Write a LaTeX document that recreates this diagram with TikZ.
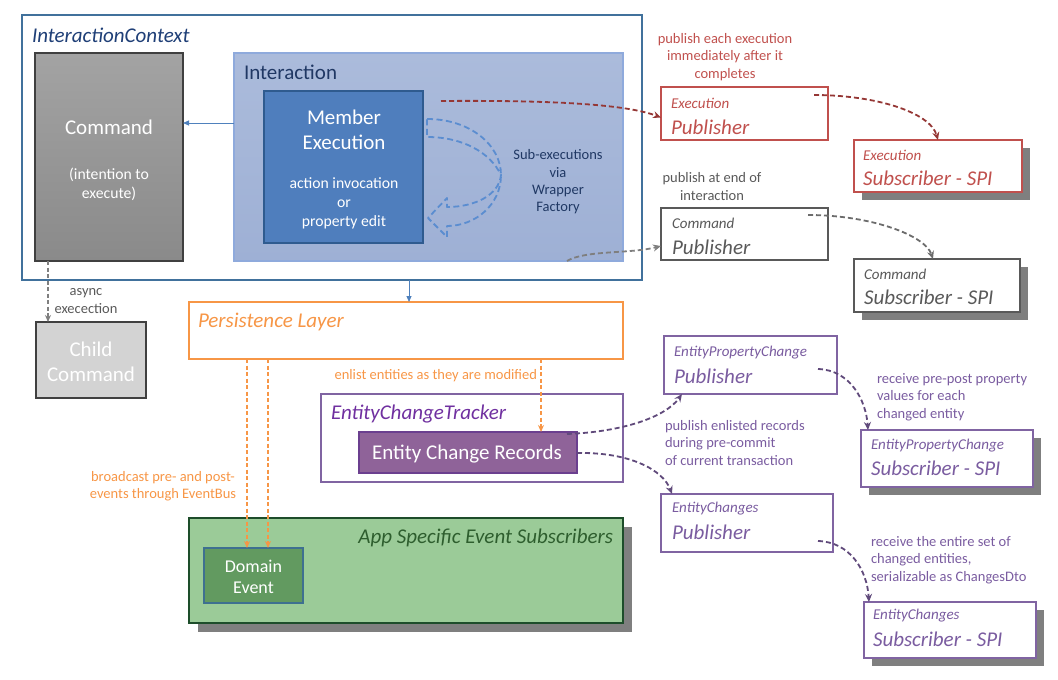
\documentclass[tikz,border=0pt]{standalone}
\usepackage{fontspec}
\setmainfont{Carlito}
\usetikzlibrary{arrows.meta,shadows,calc}
\definecolor{ctxblue}{HTML}{41719C}
\definecolor{ctxtitle}{HTML}{1F3F77}
\definecolor{cmdtop}{HTML}{A3A3A3}
\definecolor{cmdbot}{HTML}{8A8A8A}
\definecolor{cmdborder}{HTML}{404040}
\definecolor{childfill}{HTML}{D3D3D3}
\definecolor{inttop}{HTML}{ABBBDB}
\definecolor{intbot}{HTML}{9EB0D5}
\definecolor{intborder}{HTML}{8FAADC}
\definecolor{inttext}{HTML}{203864}
\definecolor{mefill}{HTML}{4F7EBD}
\definecolor{meborder}{HTML}{2F5B8F}
\definecolor{subblue}{HTML}{5B8DD0}
\definecolor{arrblue}{HTML}{4F81BD}
\definecolor{redc}{HTML}{C0504D}
\definecolor{redarr}{HTML}{953735}
\definecolor{greyc}{HTML}{595959}
\definecolor{greyarr}{HTML}{7F7F7F}
\definecolor{orangec}{HTML}{F79646}
\definecolor{purplebox}{HTML}{8064A2}
\definecolor{purpletitle}{HTML}{7030A0}
\definecolor{purpletext}{HTML}{7A5CA0}
\definecolor{purplearr}{HTML}{604A7B}
\definecolor{ecrfill}{HTML}{8F6399}
\definecolor{ecrborder}{HTML}{6B3F8F}
\definecolor{greenfill}{HTML}{9BCB98}
\definecolor{greenborder}{HTML}{1D4D2A}
\definecolor{greentitle}{HTML}{2E5E2E}
\definecolor{domfill}{HTML}{629A60}
\definecolor{domborder}{HTML}{3E7090}
\definecolor{shadowgrey}{HTML}{7F7F7F}
\begin{document}
\begin{tikzpicture}[x=1pt,y=-1pt,
  box/.style={inner sep=0pt, outer sep=0pt, anchor=north west, line width=1.2pt},
  shadowbox/.style={general shadow={fill=shadowgrey, shadow xshift=7.5pt, shadow yshift=-8pt}},
  txt/.style={inner sep=0pt, outer sep=0pt},
  big/.style={font=\fontsize{21}{25}\selectfont},
  itbig/.style={font=\fontsize{21}{25}\selectfont\itshape},
  mid/.style={font=\fontsize{15.7}{19}\selectfont},
  itsmall/.style={font=\fontsize{15}{18}\selectfont\itshape},
  small/.style={font=\fontsize{14.5}{17.3}\selectfont},
  dasharr/.style={line width=1.8pt, dash pattern=on 5pt off 3pt, -{Stealth[length=8pt,width=7pt]}},
  orangearr/.style={line width=1.4pt, orangec, dash pattern=on 4pt off 2.5pt, -{Stealth[length=7pt,width=6pt]}},
  bluearr/.style={line width=0.8pt, arrblue, -{Triangle[length=6pt,width=5pt]}}
]
\useasboundingbox (0,0) rectangle (1058,680);

% Interaction context
\node[box, draw=ctxblue, fill=white, minimum width=620pt, minimum height=265pt] (ctx) at (22,15) {};
\node[txt, itbig, text=ctxtitle, anchor=west] (ctxt) at (32,35) {InteractionContext};

% Command
\node[box, draw=cmdborder, top color=cmdtop, bottom color=cmdbot, minimum width=148pt, minimum height=208pt] (cmd) at (35,53) {};
\node[txt, big, white] (cmdt) at (109,127) {Command};
\node[txt, mid, white, align=center] (cmdt2) at (109,184) {(intention to\\execute)};

% Interaction
\node[box, draw=intborder, top color=inttop, bottom color=intbot, minimum width=389pt, minimum height=208pt] (int) at (234,53) {};
\node[txt, big, text=inttext, anchor=west] (intt) at (244,72) {Interaction};

% Member execution
\node[box, draw=meborder, fill=mefill, minimum width=159pt, minimum height=152pt] (me) at (264,91) {};
\node[txt, big, white, align=center] (met) at (344,130) {Member\\Execution};
\node[txt, mid, white, align=center, font=\fontsize{15.7}{19}\selectfont] (met2) at (344,203) {action invocation\\or\\property edit};

% curved block arrow (sub-executions)
\draw[subblue, line width=1.8pt, dash pattern=on 6pt off 3.5pt, line join=round]
  (427,119) .. controls (470,119) and (501,145) .. (501,175)
  .. controls (501,205) and (475,226) .. (447,226)
  -- (447,237) -- (428,218) -- (447,198) -- (447,207)
  .. controls (475,207) and (499,195) .. (501,175)
  .. controls (490,152) and (462,137) .. (427,137) -- cycle;
\node[txt, small, text=inttext, align=center] (subt) at (558,182) {Sub-executions\\via\\Wrapper\\Factory};

% blue arrow interaction -> command
\draw[bluearr] (int.west |- 0,123) -- (cmd.east |- 0,123);

% Execution publisher / subscriber
\node[box, draw=redc, fill=white, minimum width=167pt, minimum height=53pt] (epub) at (661,87) {};
\node[txt, itsmall, text=redc, anchor=west] (epubt1) at (671,103) {Execution};
\node[txt, itbig, text=redc, anchor=west] (epubt2) at (671,127) {Publisher};
\node[box, draw=redc, fill=white, shadowbox, minimum width=168pt, minimum height=52pt] (esub) at (854,140) {};
\node[txt, itsmall, text=redc, anchor=west] (esubt1) at (863,155) {Execution};
\node[txt, itbig, text=redc, anchor=west] (esubt2) at (863,178) {Subscriber - SPI};
\node[txt, small, text=redc, align=center] (elabel) at (725,57) {publish each execution\\immediately after it\\completes};

% Command publisher / subscriber
\node[box, draw=greyc, fill=white, minimum width=167pt, minimum height=52pt] (cpub) at (661,208) {};
\node[txt, itsmall, text=greyc, anchor=west] (cpubt1) at (672,223) {Command};
\node[txt, itbig, text=greyc, anchor=west] (cpubt2) at (672,247) {Publisher};
\node[box, draw=greyc, fill=white, shadowbox, minimum width=166pt, minimum height=53pt] (csub) at (854,259) {};
\node[txt, itsmall, text=greyc, anchor=west] (csubt1) at (864,274) {Command};
\node[txt, itbig, text=greyc, anchor=west] (csubt2) at (864,297) {Subscriber - SPI};
\node[txt, small, text=greyc, align=center] (clabel) at (712,186.5) {publish at end of\\interaction};

% Child command
\node[box, draw=cmdborder, fill=childfill, minimum width=110pt, minimum height=76pt] (child) at (36,322) {};
\node[txt, big, white, align=center] (childt) at (91,362) {Child\\Command};
\node[txt, small, text=greyc, align=center] (alabel) at (86,301) {async\\execection};

% Persistence layer
\node[box, draw=orangec, fill=white, minimum width=434pt, minimum height=57pt] (pl) at (189,302) {};
\node[txt, itbig, text=orangec, anchor=west] (plt) at (198,322) {Persistence Layer};

% Entity change tracker
\node[box, draw=purplebox, fill=white, minimum width=302pt, minimum height=88pt] (ect) at (321,394) {};
\node[txt, itbig, text=purpletitle, anchor=west] (ectt) at (331,414) {EntityChangeTracker};
\node[box, draw=ecrborder, fill=ecrfill, minimum width=218pt, minimum height=41pt] (ecr) at (359,432) {};
\node[txt, big, white] (ecrt) at (467,454) {Entity Change Records};
\node[txt, small, text=orangec, anchor=east] (enlabel) at (537,376) {enlist entities as they are modified};

% EntityPropertyChange
\node[box, draw=purplebox, fill=white, minimum width=173pt, minimum height=58pt] (ppub) at (664,336) {};
\node[txt, itsmall, text=purpletext, anchor=west] (ppubt1) at (674,353) {EntityPropertyChange};
\node[txt, itbig, text=purpletext, anchor=west] (ppubt2) at (674,376) {Publisher};
\node[box, draw=purplebox, fill=white, shadowbox, minimum width=172pt, minimum height=57pt] (psub) at (861,430) {};
\node[txt, itsmall, text=purpletext, anchor=west] (psubt1) at (871,446) {EntityPropertyChange};
\node[txt, itbig, text=purpletext, anchor=west] (psubt2) at (871,468) {Subscriber - SPI};
\node[txt, small, text=purpletext, align=left, anchor=west] (plabel) at (877,397) {receive pre-post property\\values for each\\changed entity};
\node[txt, small, text=purpletext, align=left, anchor=west] (publabel) at (665,443) {publish enlisted records\\during pre-commit\\of current transaction};

% EntityChanges
\node[box, draw=purplebox, fill=white, minimum width=172pt, minimum height=58pt] (xpub) at (661,494) {};
\node[txt, itsmall, text=purpletext, anchor=west] (xpubt1) at (672,509) {EntityChanges};
\node[txt, itbig, text=purpletext, anchor=west] (xpubt2) at (672,532) {Publisher};
\node[box, draw=purplebox, fill=white, shadowbox, minimum width=172pt, minimum height=56pt] (xsub) at (864,602) {};
\node[txt, itsmall, text=purpletext, anchor=west] (xsubt1) at (873,616) {EntityChanges};
\node[txt, itbig, text=purpletext, anchor=west] (xsubt2) at (873,639) {Subscriber - SPI};
\node[txt, small, text=purpletext, align=left, anchor=west] (xlabel) at (871,560) {receive the entire set of\\changed entities,\\serializable as ChangesDto};

% App specific event subscribers
\node[box, draw=greenborder, fill=greenfill, general shadow={fill=shadowgrey, shadow xshift=9pt, shadow yshift=-9pt}, minimum width=434pt, minimum height=105pt] (app) at (189,518) {};
\node[txt, itbig, text=greentitle, anchor=east] (appt) at (613,538) {App Specific Event Subscribers};
\node[box, draw=domborder, fill=domfill, minimum width=99pt, minimum height=55pt] (dom) at (204,548) {};
\node[txt, font=\fontsize{18}{21}\selectfont, white, align=center] (domt) at (253.5,576.5) {Domain\\Event};
\node[txt, small, text=orangec, align=center] (blabel) at (163,486) {broadcast pre- and post-\\events through EventBus};

% straight connectors
\draw[bluearr] (ctx.south -| 409,0) -- (pl.north -| 409,0);
\draw[line width=1.6pt, greyarr, dash pattern=on 4pt off 2.5pt, -{Stealth[length=7pt,width=6pt]}] (cmd.south -| 48,0) -- (child.north -| 48,0);
\draw[orangearr] (pl.south -| 247,0) -- (dom.north -| 247,0);
\draw[orangearr] (pl.south -| 268,0) -- (dom.north -| 268,0);
\draw[orangearr] (pl.south -| 541,0) -- (ecr.north -| 541,0);

% curved connectors
\draw[dasharr, redarr] ($(me.north east)+(18,10)$) .. controls (560,100) and (628,105) .. ([yshift=-4pt]epub.west);
\draw[dasharr, redarr] ($(epub.north east)+(-14,8)$) .. controls (875,95) and (930,112) .. (esub.north -| 938,0);
\draw[dasharr, greyarr] ($(int.south east)+(-56,0)$) .. controls (585,250) and (630,254) .. ([yshift=-12pt]cpub.west);
\draw[dasharr, greyarr!85!black] ($(cpub.north east)+(-20,7)$) .. controls (870,215) and (925,235) .. (csub.north -| 933,0);
\draw[dasharr, purplearr] ($(ecr.north east)+(-10,2)$) .. controls (620,432) and (665,418) .. ($(ppub.south west)+(18,0)$);
\draw[dasharr, purplearr] (ecr.east |- 0,453) .. controls (630,452) and (663,470) .. ($(xpub.north west)+(11,0)$);
\draw[dasharr, purplearr] ($(ppub.east)+(-19,4)$) .. controls (850,370) and (866,400) .. ($(psub.north west)+(7,0)$);
\draw[dasharr, purplearr] ($(xpub.east)+(-15,18)$) .. controls (850,542) and (867,570) .. ($(xsub.north west)+(5,0)$);
\end{tikzpicture}
\end{document}
